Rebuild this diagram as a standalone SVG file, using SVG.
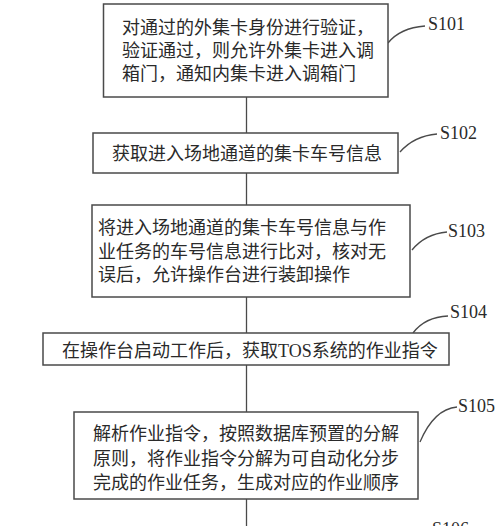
<svg xmlns="http://www.w3.org/2000/svg" width="500" height="526" viewBox="0 0 500 526">
<style>
.box{fill:#fff;stroke:#4a4a4a;stroke-width:1.5}
.ln{fill:none;stroke:#4a4a4a;stroke-width:1.3}
.t{font-family:"Liberation Serif","Noto Sans CJK SC",serif;font-size:18px;fill:#2a2a2a}
.lbl{font-family:"Liberation Serif",serif;font-size:18px;fill:#2a2a2a}
</style>
<rect width="500" height="526" fill="#fff"/>
<g id="connectors">
<line class="ln" x1="246.5" y1="97" x2="246.5" y2="133"/>
<line class="ln" x1="246.5" y1="173" x2="246.5" y2="205"/>
<line class="ln" x1="246.5" y1="297" x2="246.5" y2="333"/>
<line class="ln" x1="246.5" y1="365" x2="246.5" y2="412"/>
<line class="ln" x1="246.5" y1="499" x2="246.5" y2="526"/>
<path class="ln" d="M425,26 Q400,28 388,43"/>
<path class="ln" d="M437,134 Q414,136 400,152"/>
<path class="ln" d="M447,232 Q425,234 412,250"/>
<path class="ln" d="M448,316 Q425,317 413,333"/>
<path class="ln" d="M457,407 Q434,409 420,442"/>
</g>
<g id="S101">
<rect class="box" x="103.5" y="4" width="284.5" height="93"/>
<text class="t" x="122" y="34">对通过的外集卡身份进行验证，</text>
<text class="t" x="122" y="57">验证通过，则允许外集卡进入调</text>
<text class="t" x="122" y="80">箱门，通知内集卡进入调箱门</text>
<text class="lbl" x="428" y="30">S101</text>
</g>
<g id="S102">
<rect class="box" x="93" y="133" width="305" height="40"/>
<text class="t" x="112" y="160">获取进入场地通道的集卡车号信息</text>
<text class="lbl" x="440" y="139">S102</text>
</g>
<g id="S103">
<rect class="box" x="92" y="205" width="318" height="92"/>
<text class="t" x="98" y="234">将进入场地通道的集卡车号信息与作</text>
<text class="t" x="98" y="257.5">业任务的车号信息进行比对，核对无</text>
<text class="t" x="98" y="281">误后，允许操作台进行装卸操作</text>
<text class="lbl" x="448" y="237">S103</text>
</g>
<g id="S104">
<rect class="box" x="43" y="333" width="406" height="32"/>
<text class="t" x="62" y="357">在操作台启动工作后，获取TOS系统的作业指令</text>
<text class="lbl" x="450" y="318">S104</text>
</g>
<g id="S105">
<rect class="box" x="74" y="412" width="344" height="87"/>
<text class="t" x="93" y="440">解析作业指令，按照数据库预置的分解</text>
<text class="t" x="93" y="465">原则，将作业指令分解为可自动化分步</text>
<text class="t" x="93" y="489">完成的作业任务，生成对应的作业顺序</text>
<text class="lbl" x="458" y="412">S105</text>
</g>
<g id="S106">
<text class="lbl" x="432" y="535">S106</text>
</g>
</svg>
